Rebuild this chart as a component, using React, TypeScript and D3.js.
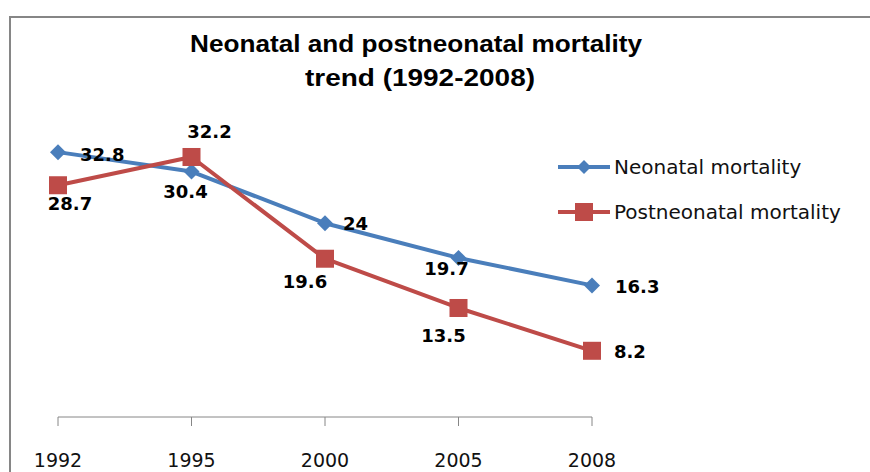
import React from "react";
import * as d3 from "d3";

const years = ["1992", "1995", "2000", "2005", "2008"];
const neonatal = [32.8, 30.4, 24, 19.7, 16.3];
const postneonatal = [28.7, 32.2, 19.6, 13.5, 8.2];
const seriesNames = ["Neonatal mortality", "Postneonatal mortality"];
const titleLines = ["Neonatal and postneonatal mortality", "trend (1992-2008)"];

// label offsets (dx, dy, anchor) per point
const neoLabelPos: [number, number, string][] = [
  [22, 2, "start"],
  [-6, 20, "middle"],
  [18, 0, "start"],
  [-12, 11, "middle"],
  [23, 1, "start"],
];
const postLabelPos: [number, number, string][] = [
  [12, 18, "middle"],
  [18, -25, "middle"],
  [-20, 23, "middle"],
  [-15, 28, "middle"],
  [22, 1, "start"],
];

const BLUE = "#4A7EBB";
const RED = "#BE4B48";
const GRAY = "#868686";

export default function App() {
  const x = d3.scalePoint<string>().domain(years).range([58, 592]);
  const y = d3.scaleLinear().domain([0, 40]).range([417, 94]);
  const line = d3
    .line<number>()
    .x((_, i) => x(years[i]) as number)
    .y((d) => y(d));

  const diamond = (cx: number, cy: number, r: number) =>
    `M${cx},${cy - r}L${cx + r},${cy}L${cx},${cy + r}L${cx - r},${cy}Z`;

  const labelFont = "DejaVu Sans, sans-serif";

  return (
    <svg
      width={870}
      height={472}
      style={{ position: "absolute", left: 0, top: 0, background: "#fff" }}
    >
      <rect x={0} y={0} width={870} height={472} fill="#fff" />
      <rect x={10} y={17} width={900} height={500} fill="none" stroke={GRAY} strokeWidth={2} />

      {/* title */}
      <text
        x={416}
        y={52}
        textAnchor="middle"
        fontFamily="Liberation Sans, Arial, sans-serif"
        fontWeight="bold"
        fontSize={24}
        textLength={452}
        lengthAdjust="spacingAndGlyphs"
        fill="#000"
      >
        {titleLines[0]}
      </text>
      <text
        x={420}
        y={86}
        textAnchor="middle"
        fontFamily="Liberation Sans, Arial, sans-serif"
        fontWeight="bold"
        fontSize={24}
        textLength={230}
        lengthAdjust="spacingAndGlyphs"
        fill="#000"
      >
        {titleLines[1]}
      </text>

      {/* x axis */}
      <line x1={x(years[0])} x2={x(years[years.length - 1])} y1={417} y2={417} stroke={GRAY} strokeWidth={1} />
      {years.map((yr) => (
        <g key={yr}>
          <line x1={x(yr)} x2={x(yr)} y1={417} y2={426} stroke={GRAY} strokeWidth={1} />
          <text
            x={x(yr)}
            y={460}
            textAnchor="middle"
            dominantBaseline="central"
            fontFamily={labelFont}
            fontSize={19}
            fill="#111"
          >
            {yr}
          </text>
        </g>
      ))}

      {/* series lines */}
      <path d={line(neonatal) || ""} fill="none" stroke={BLUE} strokeWidth={4} strokeLinejoin="round" />
      <path d={line(postneonatal) || ""} fill="none" stroke={RED} strokeWidth={4} strokeLinejoin="round" />

      {neonatal.map((v, i) => (
        <path key={"nm" + i} d={diamond(x(years[i]) as number, y(v), 8)} fill={BLUE} />
      ))}
      {postneonatal.map((v, i) => (
        <rect
          key={"pm" + i}
          x={(x(years[i]) as number) - 9}
          y={y(v) - 9}
          width={18}
          height={18}
          fill={RED}
        />
      ))}

      {/* data labels */}
      {neonatal.map((v, i) => (
        <text
          key={"nl" + i}
          x={(x(years[i]) as number) + neoLabelPos[i][0]}
          y={y(v) + neoLabelPos[i][1]}
          textAnchor={neoLabelPos[i][2] as any}
          dominantBaseline="central"
          fontFamily={labelFont}
          fontWeight="bold"
          fontSize={18}
          fill="#000"
        >
          {v}
        </text>
      ))}
      {postneonatal.map((v, i) => (
        <text
          key={"pl" + i}
          x={(x(years[i]) as number) + postLabelPos[i][0]}
          y={y(v) + postLabelPos[i][1]}
          textAnchor={postLabelPos[i][2] as any}
          dominantBaseline="central"
          fontFamily={labelFont}
          fontWeight="bold"
          fontSize={18}
          fill="#000"
        >
          {v}
        </text>
      ))}

      {/* legend */}
      <g>
        <line x1={558} x2={610} y1={167} y2={167} stroke={BLUE} strokeWidth={4} />
        <path d={diamond(584, 167, 7)} fill={BLUE} />
        <text x={614} y={167} dominantBaseline="central" fontFamily={labelFont} fontSize={20} fill="#111">
          {seriesNames[0]}
        </text>
        <line x1={558} x2={610} y1={212} y2={212} stroke={RED} strokeWidth={4} />
        <rect x={575} y={203} width={18} height={18} fill={RED} />
        <text x={614} y={212} dominantBaseline="central" fontFamily={labelFont} fontSize={20} fill="#111">
          {seriesNames[1]}
        </text>
      </g>
    </svg>
  );
}
